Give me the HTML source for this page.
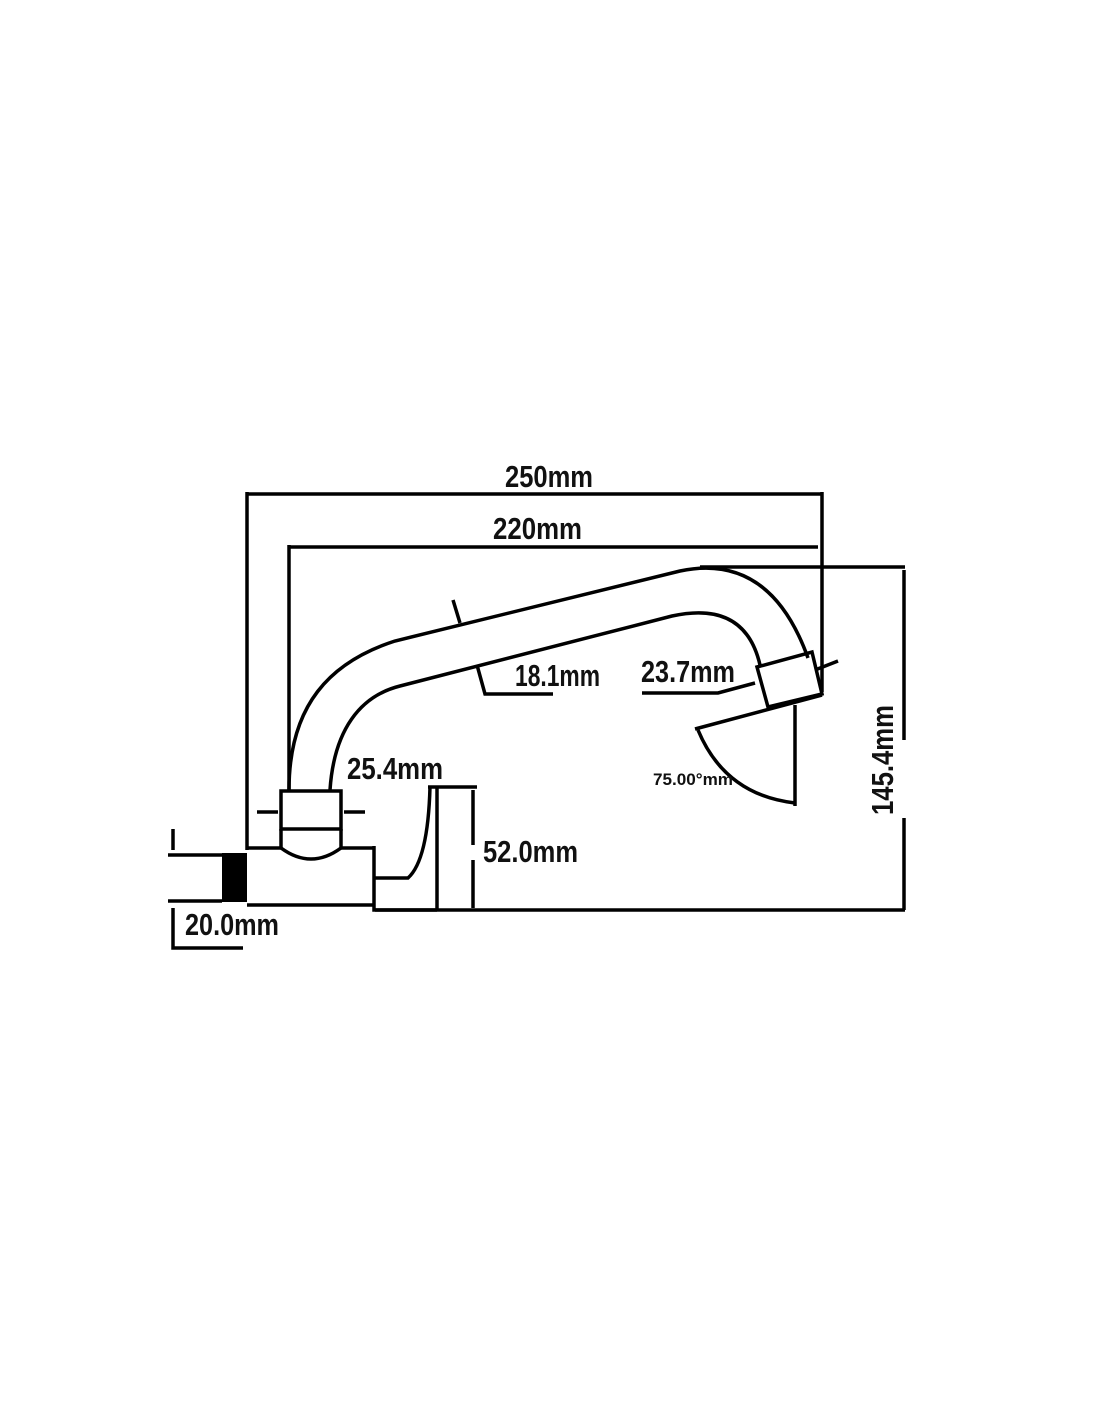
<!DOCTYPE html>
<html><head><style>
html,body{margin:0;padding:0;background:#fff;}
svg{display:block}
text{font-family:"Liberation Sans",sans-serif;font-weight:bold;fill:#111;}
</style></head><body>
<svg width="1100" height="1422" viewBox="0 0 1100 1422" xmlns="http://www.w3.org/2000/svg">
<g fill="none" stroke="#000" stroke-width="3.5" stroke-linecap="butt">
<line x1="247" y1="494" x2="822" y2="494"/>
<line x1="247" y1="492" x2="247" y2="850"/>
<line x1="822" y1="492" x2="822" y2="692"/>
<line x1="289" y1="547" x2="818" y2="547"/>
<line x1="289" y1="545" x2="289" y2="790"/>
<line x1="700" y1="567" x2="905" y2="567"/>
<line x1="904" y1="570" x2="904" y2="740"/>
<line x1="904" y1="818" x2="904" y2="910"/>
<line x1="375" y1="910" x2="905" y2="910"/>
<path d="M289,790 C289,705 330,662 395,641 L680,571 Q770,552 808,658"/>
<path d="M330,790 C334,730 360,696 400,686 L672,616 Q745,600 760,665"/>
<line x1="453" y1="600" x2="460" y2="623"/>
<path d="M757,667 L812,652 L822,694 L768,707 Z"/>
<line x1="815" y1="670" x2="838" y2="661"/>
<line x1="695" y1="729" x2="822" y2="695"/>
<line x1="795" y1="705" x2="795" y2="806"/>
<path d="M698,730 Q725,795 795,803"/>
<path d="M642,693 L718,693 L755,683"/>
<path d="M477,665 L485,694 L553,694"/>
<rect x="281" y="791" width="60" height="38"/>
<line x1="281" y1="829" x2="281" y2="848"/>
<line x1="341" y1="829" x2="341" y2="848"/>
<path d="M281,848 Q311,870 341,848"/>
<line x1="257" y1="812" x2="278" y2="812"/>
<line x1="344" y1="812" x2="365" y2="812"/>
<line x1="247" y1="848" x2="281" y2="848"/>
<line x1="341" y1="848" x2="374" y2="848"/>
<line x1="247" y1="905" x2="374" y2="905"/>
<path d="M374,846 L374,910 L437,910"/>
<path d="M374,878 L408,878 Q428,860 430,787"/>
<path d="M428,787 L477,787"/>
<line x1="437" y1="787" x2="437" y2="910"/>
<line x1="473" y1="790" x2="473" y2="845"/>
<line x1="473" y1="860" x2="473" y2="908"/>
<line x1="168" y1="855" x2="222" y2="855"/>
<line x1="168" y1="901" x2="222" y2="901"/>
<line x1="173" y1="829" x2="173" y2="850"/>
<path d="M173,908 L173,948 L243,948"/>
</g>
<rect x="222" y="853" width="25" height="49" fill="#000"/>
<g font-size="31" lengthAdjust="spacingAndGlyphs">
<text x="505" y="487" textLength="88" lengthAdjust="spacingAndGlyphs">250mm</text>
<text x="493" y="539" textLength="89" lengthAdjust="spacingAndGlyphs">220mm</text>
<text x="515" y="686" textLength="85" lengthAdjust="spacingAndGlyphs">18.1mm</text>
<text x="641" y="682" textLength="94" lengthAdjust="spacingAndGlyphs">23.7mm</text>
<text x="347" y="779" textLength="96" lengthAdjust="spacingAndGlyphs">25.4mm</text>
<text x="483" y="862" textLength="95" lengthAdjust="spacingAndGlyphs">52.0mm</text>
<text x="185" y="935" textLength="94" lengthAdjust="spacingAndGlyphs">20.0mm</text>
<text x="0" y="0" transform="translate(893,815) rotate(-90)" textLength="110" lengthAdjust="spacingAndGlyphs">145.4mm</text>
</g>
<text x="653" y="785" font-size="17" textLength="80" lengthAdjust="spacingAndGlyphs">75.00°mm</text>
</svg>
</body></html>
